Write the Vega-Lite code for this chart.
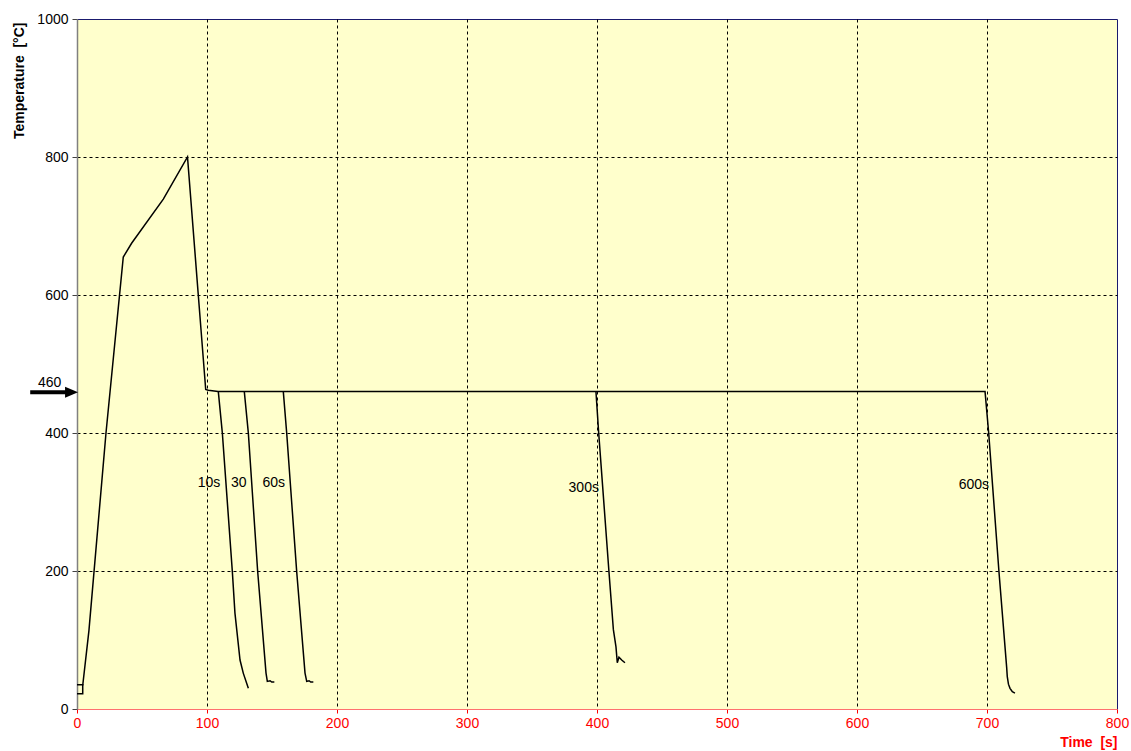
{
  "$schema": "https://vega.github.io/schema/vega-lite/v6.json",
  "width": 1040,
  "height": 690,
  "autosize": {"type": "none"},
  "padding": {"left": 77, "top": 19, "right": 14, "bottom": 42},
  "background": "#ffffff",
  "config": {
    "view": {"fill": "#FFFFCC", "stroke": "#1a1a6e", "strokeWidth": 1},
    "font": "Liberation Sans",
    "axis": {"labelFont": "Liberation Sans", "titleFont": "Liberation Sans"}
  },
  "datasets": {
    "curve": [
      {"series": "start", "i": 1, "t": 0, "temp": 35},
      {"series": "start", "i": 2, "t": 4.4, "temp": 35},
      {"series": "start", "i": 3, "t": 4.4, "temp": 22},
      {"series": "start", "i": 4, "t": 0, "temp": 22},

      {"series": "main", "i": 1, "t": 4.4, "temp": 34},
      {"series": "main", "i": 2, "t": 9.2, "temp": 114},
      {"series": "main", "i": 3, "t": 22.3, "temp": 400},
      {"series": "main", "i": 4, "t": 35.6, "temp": 655},
      {"series": "main", "i": 5, "t": 42, "temp": 675},
      {"series": "main", "i": 6, "t": 66.4, "temp": 739},
      {"series": "main", "i": 7, "t": 85, "temp": 800},
      {"series": "main", "i": 8, "t": 93.3, "temp": 600},
      {"series": "main", "i": 9, "t": 99, "temp": 463},
      {"series": "main", "i": 10, "t": 101, "temp": 462},
      {"series": "main", "i": 11, "t": 108.5, "temp": 460},
      {"series": "main", "i": 12, "t": 698.5, "temp": 460},
      {"series": "main", "i": 13, "t": 701.3, "temp": 400},
      {"series": "main", "i": 14, "t": 709.2, "temp": 199},
      {"series": "main", "i": 15, "t": 715.1, "temp": 61},
      {"series": "main", "i": 16, "t": 715.6, "temp": 47},
      {"series": "main", "i": 17, "t": 716.5, "temp": 36},
      {"series": "main", "i": 18, "t": 717.7, "temp": 30},
      {"series": "main", "i": 19, "t": 719.5, "temp": 25},
      {"series": "main", "i": 20, "t": 721.5, "temp": 23},

      {"series": "10s", "i": 1, "t": 108.7, "temp": 460},
      {"series": "10s", "i": 2, "t": 111.8, "temp": 400},
      {"series": "10s", "i": 3, "t": 119.5, "temp": 199},
      {"series": "10s", "i": 4, "t": 121.5, "temp": 139},
      {"series": "10s", "i": 5, "t": 125.4, "temp": 71},
      {"series": "10s", "i": 6, "t": 127.9, "temp": 52},
      {"series": "10s", "i": 7, "t": 131.8, "temp": 30},

      {"series": "30s", "i": 1, "t": 128.7, "temp": 460},
      {"series": "30s", "i": 2, "t": 131.8, "temp": 400},
      {"series": "30s", "i": 3, "t": 139, "temp": 199},
      {"series": "30s", "i": 4, "t": 145.4, "temp": 52},
      {"series": "30s", "i": 5, "t": 146.4, "temp": 40},
      {"series": "30s", "i": 6, "t": 148.5, "temp": 41},
      {"series": "30s", "i": 7, "t": 149.8, "temp": 39},
      {"series": "30s", "i": 8, "t": 151.8, "temp": 39},

      {"series": "60s", "i": 1, "t": 158.7, "temp": 460},
      {"series": "60s", "i": 2, "t": 161.3, "temp": 400},
      {"series": "60s", "i": 3, "t": 169, "temp": 199},
      {"series": "60s", "i": 4, "t": 175.4, "temp": 52},
      {"series": "60s", "i": 5, "t": 176.7, "temp": 40},
      {"series": "60s", "i": 6, "t": 178.5, "temp": 41},
      {"series": "60s", "i": 7, "t": 179.8, "temp": 39},
      {"series": "60s", "i": 8, "t": 181.8, "temp": 39},

      {"series": "300s", "i": 1, "t": 399.2, "temp": 460},
      {"series": "300s", "i": 2, "t": 401.3, "temp": 400},
      {"series": "300s", "i": 3, "t": 409.2, "temp": 199},
      {"series": "300s", "i": 4, "t": 412.6, "temp": 115},
      {"series": "300s", "i": 5, "t": 414.6, "temp": 90},
      {"series": "300s", "i": 6, "t": 415.6, "temp": 67},
      {"series": "300s", "i": 7, "t": 416.9, "temp": 75},
      {"series": "300s", "i": 8, "t": 419, "temp": 71},
      {"series": "300s", "i": 9, "t": 421.5, "temp": 67}
    ],
    "labels": [
      {"text": "10s", "t": 101.5, "temp": 327},
      {"text": "30", "t": 124.5, "temp": 327},
      {"text": "60s", "t": 151.4, "temp": 327},
      {"text": "300s", "t": 389.8, "temp": 320},
      {"text": "600s", "t": 689.9, "temp": 325},
      {"text": "460", "t": -21, "temp": 472}
    ],
    "arrow": [
      {"t0": -36, "t1": -6, "temp": 459}
    ],
    "arrowhead": [
      {"t": -4.2, "temp": 459}
    ]
  },
  "layer": [
    {
      "data": {"name": "curve"},
      "mark": {"type": "line", "color": "#000000", "strokeWidth": 1.5, "interpolate": "linear"},
      "encoding": {
        "x": {
          "field": "t",
          "type": "quantitative",
          "scale": {"domain": [0, 800], "nice": false, "zero": false},
          "axis": {
            "values": [0, 100, 200, 300, 400, 500, 600, 700, 800],
            "format": "d",
            "title": "Time\u00a0\u00a0[s]",
            "titleColor": "#FF0000",
            "titleFontSize": 14,
            "titleFontWeight": "bold",
            "titleAlign": "right",
            "titleAnchor": "end",
            "titleX": 1040,
            "titleY": 37,
            "titleBaseline": "alphabetic",
            "labelColor": "#FF0000",
            "labelFontSize": 14,
            "labelPadding": 3,
            "labelFlush": false,
            "domainColor": "#FF7070",
            "domainWidth": 1,
            "tickColor": "#FF0000",
            "tickSize": 4,
            "grid": true,
            "gridColor": "#000000",
            "gridDash": [3, 3],
            "gridWidth": 1,
            "gridOpacity": {"condition": {"test": "datum.value === 0 || datum.value === 800", "value": 0}, "value": 1}
          }
        },
        "y": {
          "field": "temp",
          "type": "quantitative",
          "scale": {"domain": [0, 1000], "nice": false, "zero": false},
          "axis": {
            "values": [0, 200, 400, 600, 800, 1000],
            "format": "d",
            "title": "Temperature\u00a0\u00a0[°C]",
            "titleColor": "#000000",
            "titleFontSize": 14,
            "titleFontWeight": "bold",
            "titleAngle": -90,
            "titleAlign": "right",
            "titleBaseline": "middle",
            "titleX": -58,
            "titleY": 3,
            "labelColor": "#000000",
            "labelFontSize": 14,
            "labelPadding": 4,
            "labelFlush": false,
            "domainColor": "#808080",
            "domainWidth": 1.5,
            "tickColor": "#404040",
            "tickSize": 5,
            "grid": true,
            "gridColor": "#000000",
            "gridDash": [3, 3],
            "gridWidth": 1,
            "gridOpacity": {"condition": {"test": "datum.value === 0 || datum.value === 1000", "value": 0}, "value": 1}
          }
        },
        "detail": {"field": "series", "type": "nominal"},
        "order": {"field": "i", "type": "quantitative"}
      }
    },
    {
      "data": {"name": "labels"},
      "mark": {"type": "text", "font": "Liberation Sans", "fontSize": 14, "color": "#000000", "align": "center", "baseline": "middle"},
      "encoding": {
        "x": {"field": "t", "type": "quantitative"},
        "y": {"field": "temp", "type": "quantitative"},
        "text": {"field": "text", "type": "nominal"}
      }
    },
    {
      "data": {"name": "arrow"},
      "mark": {"type": "rule", "color": "#000000", "strokeWidth": 4},
      "encoding": {
        "x": {"field": "t0", "type": "quantitative"},
        "x2": {"field": "t1"},
        "y": {"field": "temp", "type": "quantitative"}
      }
    },
    {
      "data": {"name": "arrowhead"},
      "mark": {"type": "point", "shape": "M-1,-0.85L1,0L-1,0.85Z", "filled": true, "color": "#000000", "size": 169, "opacity": 1},
      "encoding": {
        "x": {"field": "t", "type": "quantitative"},
        "y": {"field": "temp", "type": "quantitative"}
      }
    }
  ]
}
